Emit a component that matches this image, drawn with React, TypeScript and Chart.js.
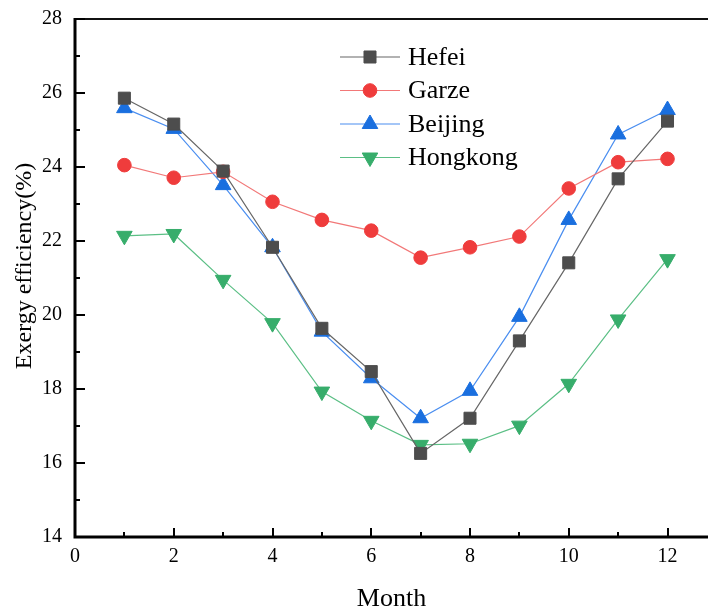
import React, { useEffect, useRef } from 'react';
import { Chart, registerables } from 'chart.js';
import { drawPoint } from 'chart.js/helpers';

Chart.register(...registerables);

const months = [1, 2, 3, 4, 5, 6, 7, 8, 9, 10, 11, 12];
const seriesNames = ['Hefei', 'Garze', 'Beijing', 'Hongkong'];
const hefei = [25.86, 25.16, 23.89, 21.83, 19.64, 18.47, 16.26, 17.21, 19.3, 21.41, 23.68, 25.24];
const garze = [24.05, 23.71, 23.87, 23.06, 22.57, 22.28, 21.55, 21.83, 22.12, 23.42, 24.13, 24.22];
const beijing = [25.59, 25.03, 23.51, 21.83, 19.55, 18.29, 17.21, 17.95, 19.95, 22.57, 24.88, 25.54];
const hongkong = [22.14, 22.19, 20.95, 19.78, 17.93, 17.14, 16.49, 16.52, 17.01, 18.14, 19.88, 21.51];
const xTicks = [0, 2, 4, 6, 8, 10, 12];
const xMinorTicks = [1, 3, 5, 7, 9, 11];
const yTicks = [14, 16, 18, 20, 22, 24, 26, 28];
const yMinorTicks = [15, 17, 19, 21, 23, 25, 27];
const xTitle = 'Month';
const yTitle = 'Exergy efficiency(%)';

const FONT = '"Liberation Serif", "Times New Roman", serif';

const styles = [
  { marker: '#4d4d4d', line: '#666666', pointStyle: 'rect', rotation: 0, radius: 8.5 },
  { marker: '#ef3c3c', line: '#f27878', pointStyle: 'circle', rotation: 0, radius: 6.8 },
  { marker: '#1a6fdf', line: '#4a8ef0', pointStyle: 'triangle', rotation: 0, radius: 9 },
  { marker: '#37ad6b', line: '#5bbf85', pointStyle: 'triangle', rotation: 180, radius: 9 },
];

const framePlugin = {
  id: 'frame',
  beforeDatasetsDraw(chart: any) {
    const { ctx, chartArea } = chart;
    const { left, right, top, bottom } = chartArea;
    const xs = chart.scales.x;
    const ys = chart.scales.y;
    ctx.save();
    ctx.strokeStyle = '#111';
    ctx.lineWidth = 2;
    ctx.beginPath();
    ctx.moveTo(left, top);
    ctx.lineTo(right, top);
    ctx.stroke();
    ctx.strokeStyle = '#000';
    ctx.lineWidth = 3;
    ctx.beginPath();
    ctx.moveTo(left, top - 1);
    ctx.lineTo(left, bottom + 1.5);
    ctx.moveTo(left - 1.5, bottom);
    ctx.lineTo(right, bottom);
    ctx.stroke();
    ctx.lineWidth = 2;
    ctx.beginPath();
    for (const v of yTicks) {
      const p = Math.round(ys.getPixelForValue(v));
      ctx.moveTo(left, p);
      ctx.lineTo(left + 10, p);
    }
    for (const v of yMinorTicks) {
      const p = Math.round(ys.getPixelForValue(v));
      ctx.moveTo(left, p);
      ctx.lineTo(left + 5, p);
    }
    for (const v of xTicks) {
      const p = Math.round(xs.getPixelForValue(v));
      ctx.moveTo(p, bottom);
      ctx.lineTo(p, bottom - 9);
    }
    for (const v of xMinorTicks) {
      const p = Math.round(xs.getPixelForValue(v));
      ctx.moveTo(p, bottom);
      ctx.lineTo(p, bottom - 5);
    }
    ctx.stroke();

    // y axis title
    ctx.fillStyle = '#000';
    ctx.font = `24px ${FONT}`;
    ctx.textAlign = 'center';
    ctx.textBaseline = 'middle';
    ctx.translate(25, 266);
    ctx.rotate(-Math.PI / 2);
    ctx.fillText(yTitle, 0, 0);
    ctx.restore();
  },
  afterDraw(chart: any) {
    const { ctx } = chart;
    ctx.save();
    chart.data.datasets.forEach((ds: any, i: number) => {
      const cy = 57 + i * 33.5;
      ctx.strokeStyle = ds.borderColor;
      ctx.lineWidth = 1.2;
      ctx.beginPath();
      ctx.moveTo(340, cy);
      ctx.lineTo(400, cy);
      ctx.stroke();
      ctx.fillStyle = ds.pointBackgroundColor;
      ctx.strokeStyle = ds.pointBorderColor;
      ctx.lineWidth = ds.pointBorderWidth;
      drawPoint(ctx, {
        pointStyle: ds.pointStyle,
        rotation: ds.pointRotation,
        radius: ds.pointRadius,
        borderWidth: ds.pointBorderWidth,
      }, 370, cy);
      ctx.fillStyle = '#000';
      ctx.font = `26px ${FONT}`;
      ctx.textAlign = 'left';
      ctx.textBaseline = 'middle';
      ctx.fillText(ds.label, 408, cy + 1);
    });
    ctx.restore();
  },
};

export default function App() {
  const canvasRef = useRef<HTMLCanvasElement | null>(null);

  useEffect(() => {
    if (!canvasRef.current) return;
    Chart.defaults.font.family = FONT;
    const values = [hefei, garze, beijing, hongkong];
    const chart = new Chart(canvasRef.current, {
      type: 'line',
      data: {
        datasets: values.map((vals, i) => ({
          label: seriesNames[i],
          data: months.map((m, j) => ({ x: m, y: vals[j] })),
          borderColor: styles[i].line,
          borderWidth: 1.2,
          pointStyle: styles[i].pointStyle as any,
          pointRotation: styles[i].rotation,
          pointRadius: styles[i].radius,
          pointHoverRadius: styles[i].radius,
          pointBackgroundColor: styles[i].marker,
          pointBorderColor: styles[i].marker,
          pointBorderWidth: 1,
          fill: false,
          tension: 0,
        })),
      },
      options: {
        responsive: false,
        animation: false,
        devicePixelRatio: 1,
        layout: { autoPadding: false, padding: { top: 19, right: 0, bottom: 0, left: 0 } },
        plugins: {
          legend: { display: false },
          tooltip: { enabled: false },
        },
        scales: {
          x: {
            type: 'linear',
            min: 0,
            max: 12.82,
            grid: { display: false, drawTicks: false },
            border: { display: false },
            ticks: {
              stepSize: 2,
              includeBounds: false,
              padding: 8,
              color: '#000',
              font: { size: 20, family: FONT },
              maxRotation: 0,
            },
            afterBuildTicks: (scale: any) => {
              scale.ticks = xTicks.map((v) => ({ value: v }));
            },
            afterFit: (scale: any) => {
              scale.height = 78;
              scale.paddingLeft = 0;
              scale.paddingRight = 0;
            },
            title: {
              display: true,
              text: xTitle,
              color: '#000',
              font: { size: 26, family: FONT },
              padding: { top: 0, bottom: 0 },
            },
          },
          y: {
            type: 'linear',
            min: 14,
            max: 28,
            grid: { display: false, drawTicks: false },
            border: { display: false },
            ticks: {
              stepSize: 2,
              padding: 13,
              color: '#000',
              font: { size: 20, family: FONT },
            },
            afterBuildTicks: (scale: any) => {
              scale.ticks = yTicks.map((v) => ({ value: v }));
            },
            afterFit: (scale: any) => {
              scale.width = 75;
              scale.paddingTop = 0;
              scale.paddingBottom = 0;
            },
            title: { display: false },
          },
        },
      },
      plugins: [framePlugin],
    });
    return () => chart.destroy();
  }, []);

  return (
    <div style={{ position: 'fixed', left: 0, top: 0, width: 708, height: 615, background: '#fff' }}>
      <canvas ref={canvasRef} width={708} height={615} style={{ display: 'block' }} />
    </div>
  );
}
